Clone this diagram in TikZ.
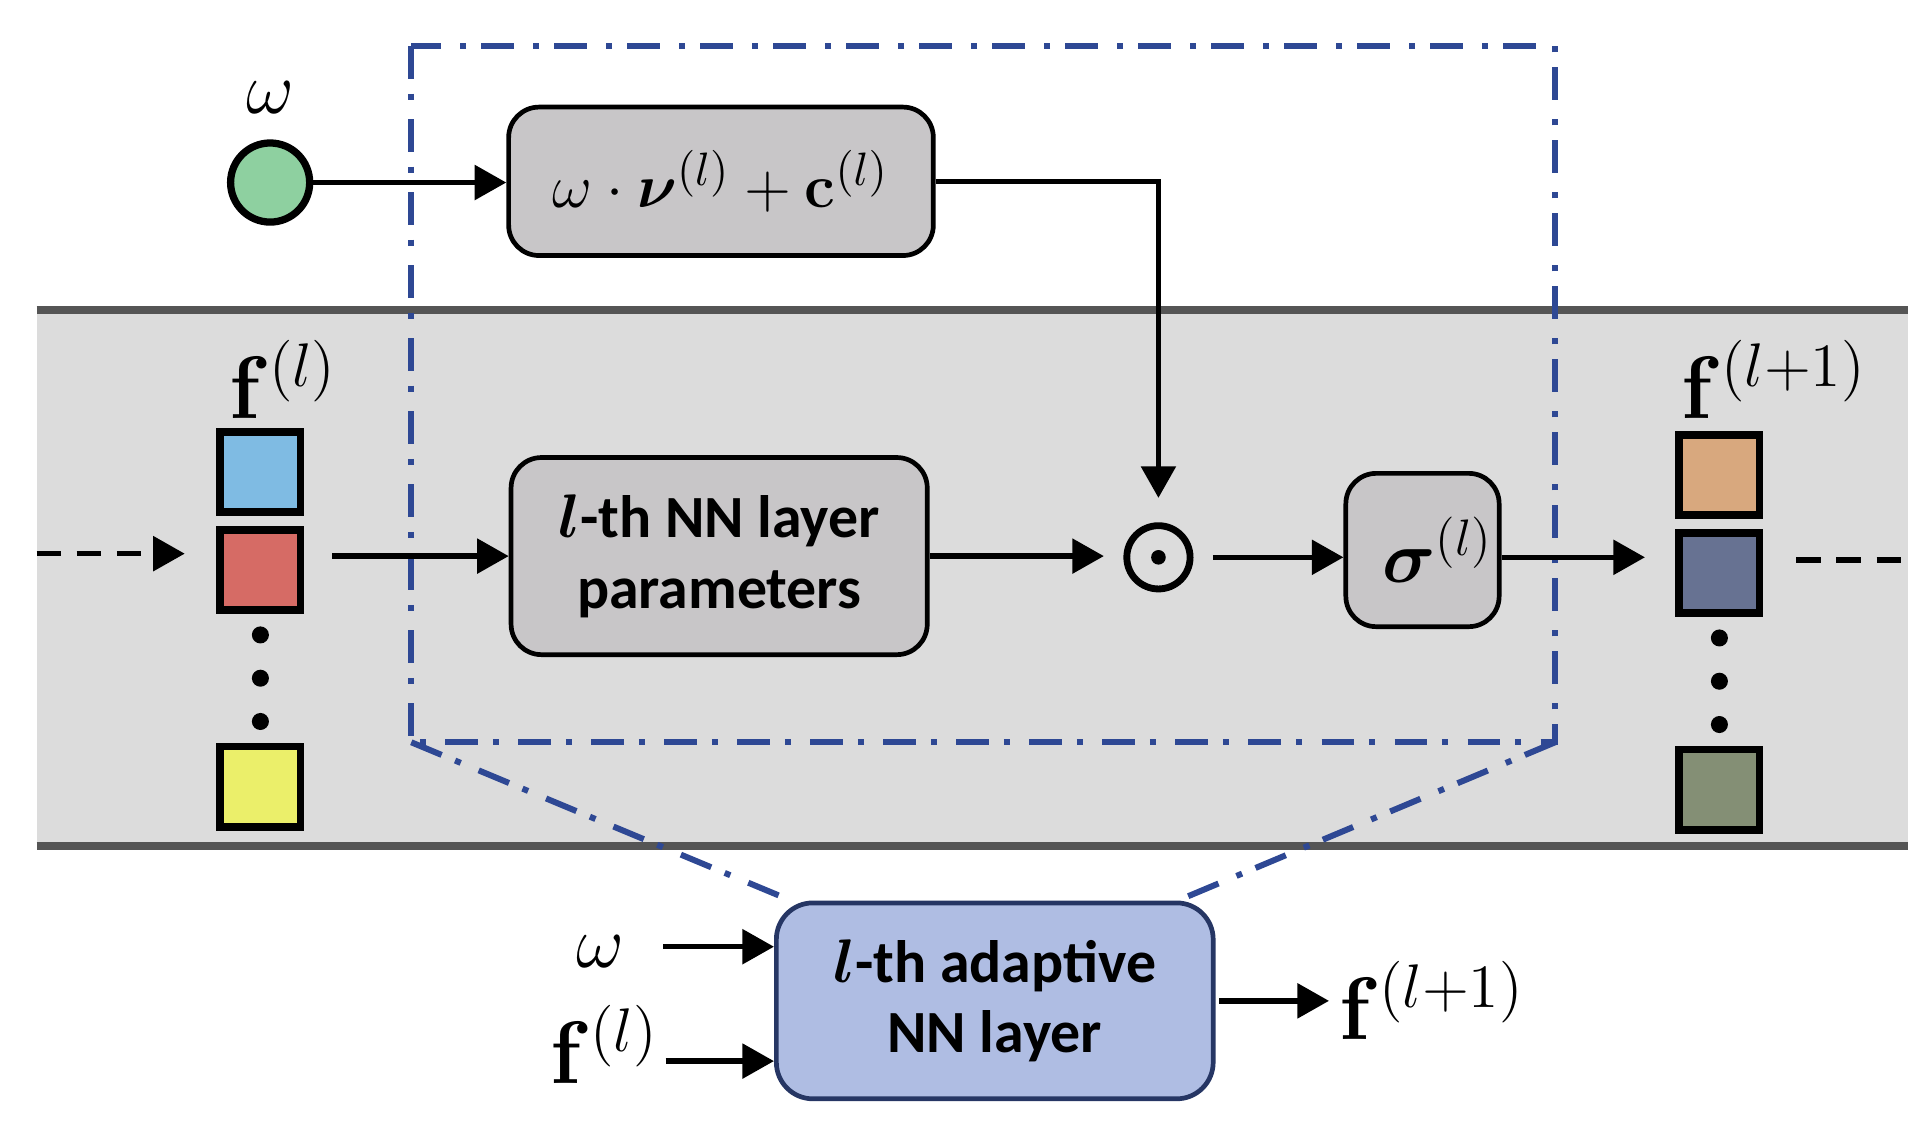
\documentclass[tikz,border=0pt]{standalone}
\usepackage{amsmath}
\usepackage[no-math]{fontspec}
\setmainfont{Carlito}
\usetikzlibrary{arrows.meta,positioning}
\definecolor{wgreen}{RGB}{142,208,160}
\definecolor{boxgray}{RGB}{200,198,200}
\definecolor{bandgray}{RGB}{220,220,220}
\definecolor{linegray}{RGB}{85,85,85}
\definecolor{zoomblue}{RGB}{46,72,148}
\definecolor{adafill}{RGB}{175,189,227}
\definecolor{adaline}{RGB}{38,54,100}
\definecolor{cblue}{RGB}{127,187,227}
\definecolor{cred}{RGB}{214,107,101}
\definecolor{cyellow}{RGB}{235,239,106}
\definecolor{corange}{RGB}{216,168,126}
\definecolor{cnavy}{RGB}{103,114,146}
\definecolor{cgreen}{RGB}{132,143,117}
\tikzstyle{op}=[draw,rectangle,rounded corners=2.5mm,fill=boxgray,line width=1.1pt,
  align=center,font=\fontsize{14}{16.5}\selectfont\bfseries]
\tikzstyle{cell}=[draw,line width=1.8pt,minimum width=6.6mm,minimum height=6.6mm,
  inner sep=0pt]
\tikzstyle{dot}=[circle,fill=black,minimum size=1.4mm,inner sep=0pt]
\tikzstyle{lbl}=[inner sep=1pt,font=\fontsize{20}{24}\selectfont]
\tikzstyle{wlbl}=[inner sep=1pt,font=\fontsize{18}{22}\selectfont]
\tikzstyle{zoomline}=[zoomblue,line width=1.4pt,
  dash pattern=on 2.7mm off 1.2mm on 0.5mm off 1.6mm]
\tikzstyle{dline}=[dash pattern=on 2mm off 1.3mm]
\tikzstyle{bandline}=[linegray,line width=1.9pt]

\begin{document}
\begin{tikzpicture}[>={Triangle[length=2.6mm,width=2.8mm]}, line width=1.3pt]
  \useasboundingbox (0,0) rectangle (15.68,-9.24);

  % layer band
  \fill[bandgray] (0.30,-2.55) rectangle (15.68,-6.95);
  \draw[bandline] (0.30,-2.55) -- (15.68,-2.55);
  \draw[bandline] (0.30,-6.95) -- (15.68,-6.95);

  % zoomed part
  \draw[zoomline] (3.38,-0.38) rectangle (12.78,-6.10);
  \coordinate (zl) at (3.38,-6.10);
  \coordinate (zr) at (12.78,-6.10);

  % frequency branch
  \node[draw,circle,fill=wgreen,line width=1.7pt,minimum size=6.5mm] (w) at (2.22,-1.50) {};
  \node[wlbl] (wl) at (2.22,-0.80) {$\omega$};
  \node[op,minimum width=3.49cm,minimum height=1.22cm,font=\fontsize{15.5}{19}\selectfont]
    (lin) at (5.925,-1.49) {$\omega\cdot\boldsymbol{\nu}^{(l)}+\mathbf{c}^{(l)}$};

  % input features
  \node[cell,fill=cblue] (a1) at (2.14,-3.88) {};
  \node[cell,fill=cred,below=0.8mm of a1] (a2) {};
  \node[dot,below=0.8mm of a2] (ad1) {};
  \node[dot,below=1.7mm of ad1] (ad2) {};
  \node[dot,below=1.7mm of ad2] (ad3) {};
  \node[cell,fill=cyellow,below=0.8mm of ad3] (a3) {};
  \node[lbl] (fa) at (2.33,-3.12) {$\mathbf{f}^{(l)}$};

  % output features
  \node[cell,fill=corange] (b1) at (14.13,-3.905) {};
  \node[cell,fill=cnavy,below=0.8mm of b1] (b2) {};
  \node[dot,below=0.8mm of b2] (bd1) {};
  \node[dot,below=1.7mm of bd1] (bd2) {};
  \node[dot,below=1.7mm of bd2] (bd3) {};
  \node[cell,fill=cgreen,below=0.8mm of bd3] (b3) {};
  \node[lbl] (fb) at (14.58,-3.12) {$\mathbf{f}^{(l+1)}$};

  % layer operations
  \node[op,minimum width=3.42cm,minimum height=1.62cm] (nn) at (5.91,-4.57)
    {$\boldsymbol{l}$-th NN layer\\parameters};
  \node[draw,circle,line width=1.6pt,minimum size=5.2mm,inner sep=0pt] (had) at (9.52,-4.58) {};
  \fill (had) circle (0.6mm);
  \node[op,minimum size=1.26cm,inner sep=0pt,font=\fontsize{17.5}{21}\selectfont]
    (sig) at (11.69,-4.52) {\hspace*{2.5mm}$\boldsymbol{\sigma}^{(l)}$};

  \coordinate (in) at (0.30,-4.55);
  \coordinate (out) at (15.68,-4.60);
  \draw[dline,->,shorten >=2.6mm] (in) -- (in -| a2.west);
  \draw[->,shorten <=2.3mm] (a2.east |- nn) -- (nn.west);
  \draw[->,shorten >=1.6mm] (nn.east) -- (nn.east -| had.west);
  \draw[->,shorten <=1.6mm] (had.east) -- (had.east -| sig.west);
  \draw[->,shorten >=2.5mm] (sig.east |- had) -- (had -| b2.west);
  \draw[dline,shorten <=2.7mm] (b2.east |- out) -- (out);
  \draw[->] (w.east) -- (w.east -| lin.west);
  \draw[->,shorten >=2mm] (lin.east) -| (had.north);

  % adaptive layer
  \node[draw=adaline,fill=adafill,rectangle,rounded corners=3mm,line width=1.1pt,
    minimum width=3.59cm,minimum height=1.61cm,align=center,
    font=\fontsize{14}{16.5}\selectfont\bfseries] (ada) at (8.175,-8.225)
    {$\boldsymbol{l}$-th adaptive\\NN layer};
  \draw[zoomline] (zl) -- ([xshift=1.4mm]ada.north west);
  \draw[zoomline] (zr) -- ([xshift=-3.1mm]ada.north east);

  \node[wlbl] (wb) at (4.93,-7.82) {$\omega$};
  \node[lbl] (fc) at (4.97,-8.58) {$\mathbf{f}^{(l)}$};
  \node[lbl] (fd) at (11.77,-8.22) {$\mathbf{f}^{(l+1)}$};
  \coordinate (wbin) at (5.45,-7.78);
  \coordinate (fcin) at (5.47,-8.72);
  \draw[->] (wbin) -- (wbin -| ada.west);
  \draw[->] (fcin) -- (fcin -| ada.west);
  \draw[->,shorten >=0.3mm] ([xshift=0.3mm]ada.east) -- (ada.east -| fd.west);
\end{tikzpicture}
\end{document}
